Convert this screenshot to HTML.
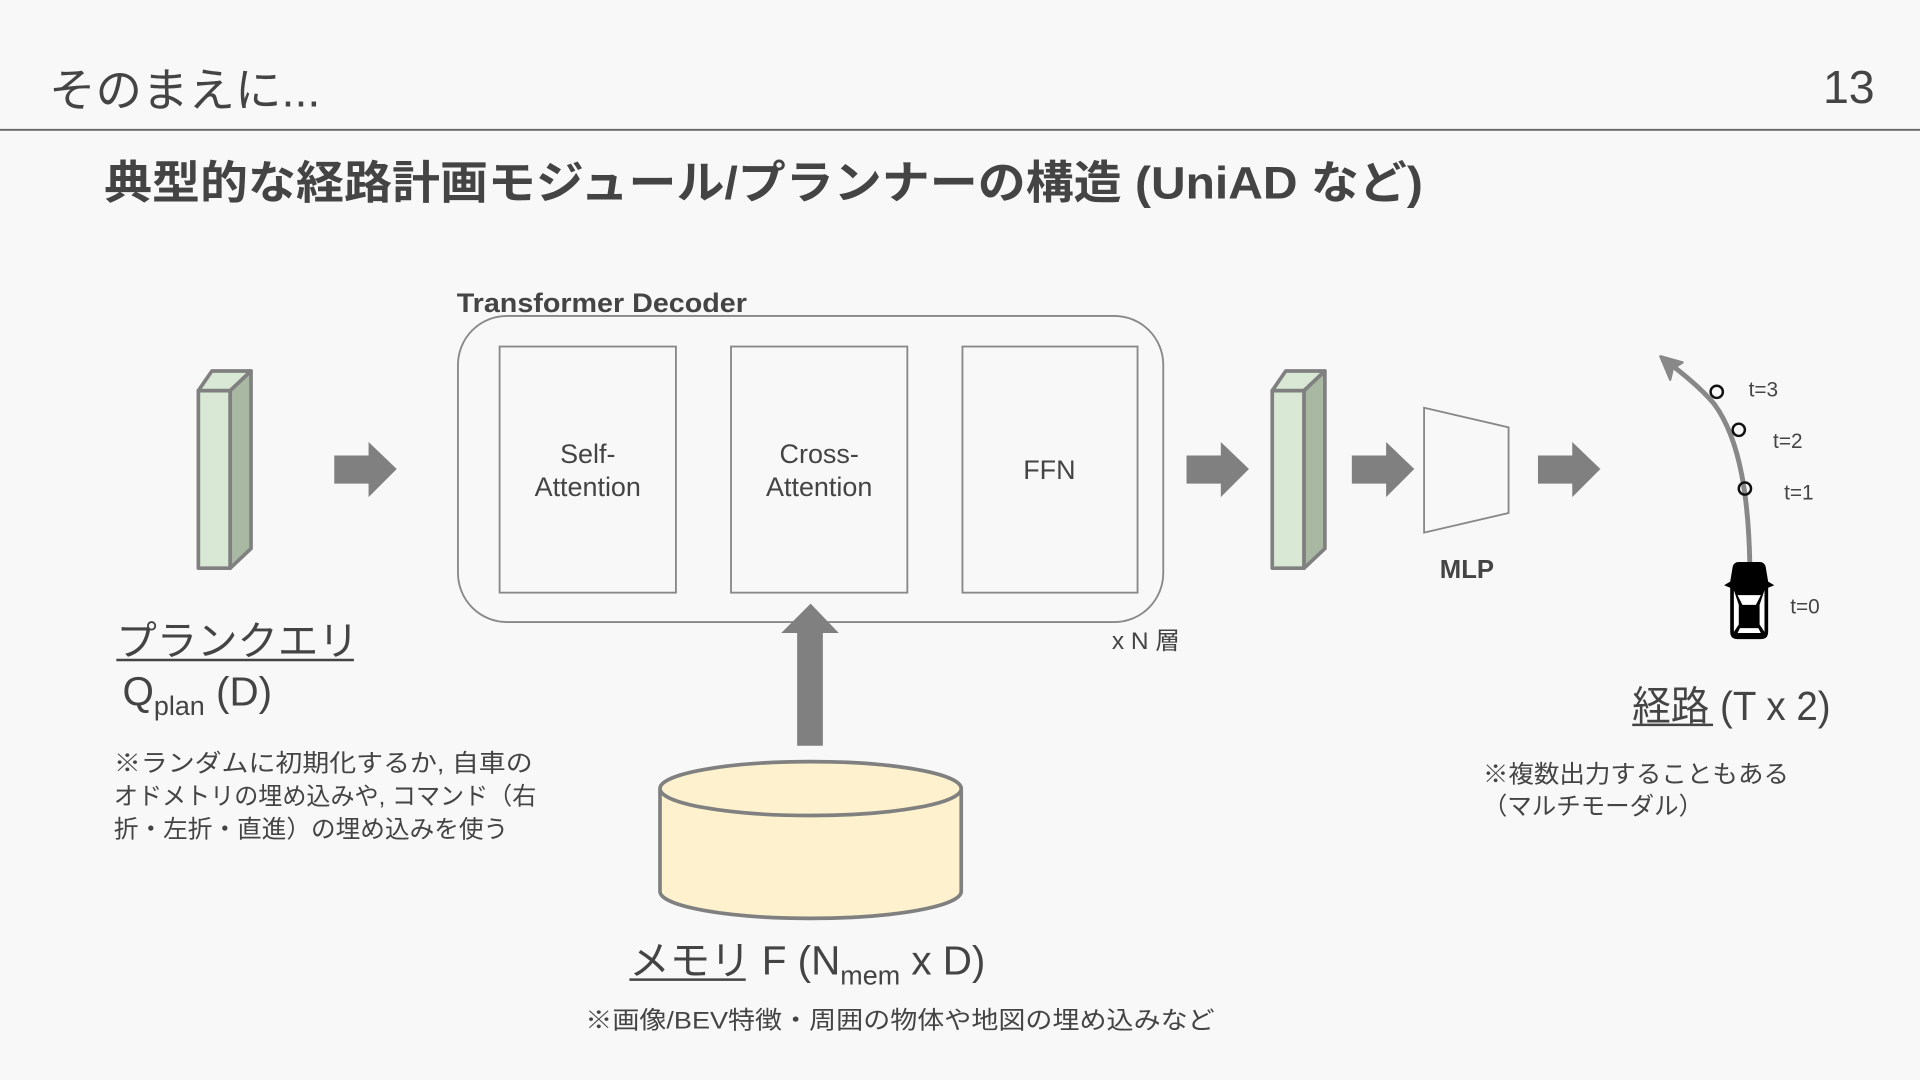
<!DOCTYPE html>
<html><head><meta charset="utf-8"><style>
html,body{margin:0;padding:0;background:#f8f8f8;}
svg{display:block;}
text{font-family:"Liberation Sans","Noto Sans CJK JP",sans-serif;fill:#444;}
</style></head><body>
<svg width="1920" height="1080" viewBox="0 0 1568 882" xmlns="http://www.w3.org/2000/svg">
<rect width="1568" height="882" fill="#f8f8f8"/>
<text x="40" y="87" font-size="38" fill="#555">そのまえに...</text>
<text x="1531" y="84" font-size="38" text-anchor="end" fill="#555">13</text>
<line x1="0" y1="106" x2="1568" y2="106" stroke="#666" stroke-width="1.5"/>
<text x="85" y="162" font-size="37" font-weight="bold" fill="#333" textLength="1077" lengthAdjust="spacingAndGlyphs">典型的な経路計画モジュール/プランナーの構造 (UniAD など)</text>

<text x="373" y="255" font-size="22" font-weight="bold" textLength="237" lengthAdjust="spacingAndGlyphs">Transformer Decoder</text>
<rect x="374" y="258" width="576" height="250" rx="40" fill="none" stroke="#888" stroke-width="1.5"/>
<g fill="#f8f8f8" stroke="#888" stroke-width="1.5">
<rect x="408" y="283" width="144" height="201"/>
<rect x="597" y="283" width="144" height="201"/>
<rect x="786" y="283" width="143" height="201"/>
</g>
<g font-size="22" text-anchor="middle" fill="#222">
<text x="480" y="378" fill="#222">Self-</text><text x="480" y="405" fill="#222">Attention</text>
<text x="669" y="378" fill="#222">Cross-</text><text x="669" y="405" fill="#222">Attention</text>
<text x="857" y="391" fill="#222">FFN</text>
</g>
<text x="908" y="530" font-size="20">x N 層</text>

<g stroke="#808080" stroke-width="3" stroke-linejoin="round">
<polygon points="162,319 188,319 188,464 162,464" fill="#d9e8d4"/>
<polygon points="162,319 173,303 205,303 188,319" fill="#d9e8d4"/>
<polygon points="188,319 205,303 205,448 188,464" fill="#a8b8a3"/>
<polygon points="1039,319 1065,319 1065,464 1039,464" fill="#d9e8d4"/>
<polygon points="1039,319 1050,303 1082,303 1065,319" fill="#d9e8d4"/>
<polygon points="1065,319 1082,303 1082,448 1065,464" fill="#a8b8a3"/>
</g>
<g fill="#808080">
<polygon points="273,372 301,372 301,361 324,383 301,406 301,395 273,395"/>
<polygon points="969,372 997,372 997,361 1020,383 997,406 997,395 969,395"/>
<polygon points="1104,372 1132,372 1132,361 1155,383 1132,406 1132,395 1104,395"/>
<polygon points="1256,372 1284,372 1284,361 1307,383 1284,406 1284,395 1256,395"/>
<polygon points="651,609 672,609 672,517 685,517 662,493 638,517 651,517"/>
</g>
<polygon points="1163,333 1232,349 1232,419 1163,435" fill="#f8f8f8" stroke="#888" stroke-width="1.5"/>
<text x="1198" y="472" font-size="21" font-weight="bold" text-anchor="middle">MLP</text>

<path d="M539,644 L539,728 A123,22 0 0 0 785,728 L785,644" fill="#fdf2cd" stroke="#808080" stroke-width="3"/>
<ellipse cx="662" cy="644" rx="123" ry="22" fill="#fdf2cd" stroke="#808080" stroke-width="3"/>

<text x="95" y="535" font-size="33">プランクエリ</text>
<line x1="95" y1="539" x2="289" y2="539" stroke="#444" stroke-width="2"/>
<text x="100" y="576" font-size="33">Q<tspan font-size="22" dy="8">plan</tspan><tspan dy="-8"> (D)</tspan></text>
<g font-size="20">
<text x="93" y="630" textLength="342" lengthAdjust="spacingAndGlyphs">※ランダムに初期化するか, 自車の</text>
<text x="93" y="657" textLength="345" lengthAdjust="spacingAndGlyphs">オドメトリの埋め込みや, コマンド（右</text>
<text x="93" y="684" textLength="322" lengthAdjust="spacingAndGlyphs">折・左折・直進）の埋め込みを使う</text>
</g>
<text x="514" y="796" font-size="33">メモリ F (N<tspan font-size="22" dy="8">mem</tspan><tspan dy="-8"> x D)</tspan></text>
<line x1="514" y1="800" x2="609" y2="800" stroke="#444" stroke-width="2"/>
<text x="478" y="840" font-size="20" textLength="514" lengthAdjust="spacingAndGlyphs">※画像/BEV特徴・周囲の物体や地図の埋め込みなど</text>

<path d="M1429,460 C1428,410 1422,360 1400,330 C1390,318 1378,308 1365,298" fill="none" stroke="#888" stroke-width="4"/>
<polygon points="1356,291 1374,296 1366,301 1364,310" fill="#888" stroke="#888" stroke-width="2" stroke-linejoin="round"/>
<g fill="none" stroke="#111" stroke-width="2">
<circle cx="1402" cy="320" r="5"/><circle cx="1420" cy="351" r="5"/><circle cx="1425" cy="399" r="5"/>
</g>
<g fill="#000">
<path d="M1415,463 Q1416,459 1420,459 L1437,459 Q1441,459 1442,463 L1444,475 L1449,478 L1444,480 L1444,516 Q1444,522 1438,522 L1419,522 Q1413,522 1413,516 L1413,480 L1408,478 L1413,475 Z"/>
<path d="M1419,486 L1438,486 L1434,494 L1423,494 Z" fill="#fff"/>
<rect x="1421" y="496" width="15" height="14" fill="#000"/>
<path d="M1416,482 L1420,494 L1420,510 L1416,516 Z" fill="#fff"/>
<path d="M1441,482 L1437,494 L1437,510 L1441,516 Z" fill="#fff"/>
<path d="M1419,517 L1438,517 L1436,513 L1421,513 Z" fill="#fff"/>
</g>
<g font-size="17" fill="#222">
<text x="1428" y="324" fill="#222">t=3</text>
<text x="1448" y="366" fill="#222">t=2</text>
<text x="1457" y="408" fill="#222">t=1</text>
<text x="1462" y="501" fill="#222">t=0</text>
</g>
<text x="1333" y="588" font-size="33" textLength="162" lengthAdjust="spacingAndGlyphs">経路 (T x 2)</text>
<line x1="1333" y1="592" x2="1399" y2="592" stroke="#444" stroke-width="2"/>
<g font-size="20">
<text x="1211" y="639" textLength="250" lengthAdjust="spacingAndGlyphs">※複数出力することもある</text>
<text x="1211" y="665">（マルチモーダル）</text>
</g>
</svg>
</body></html>
